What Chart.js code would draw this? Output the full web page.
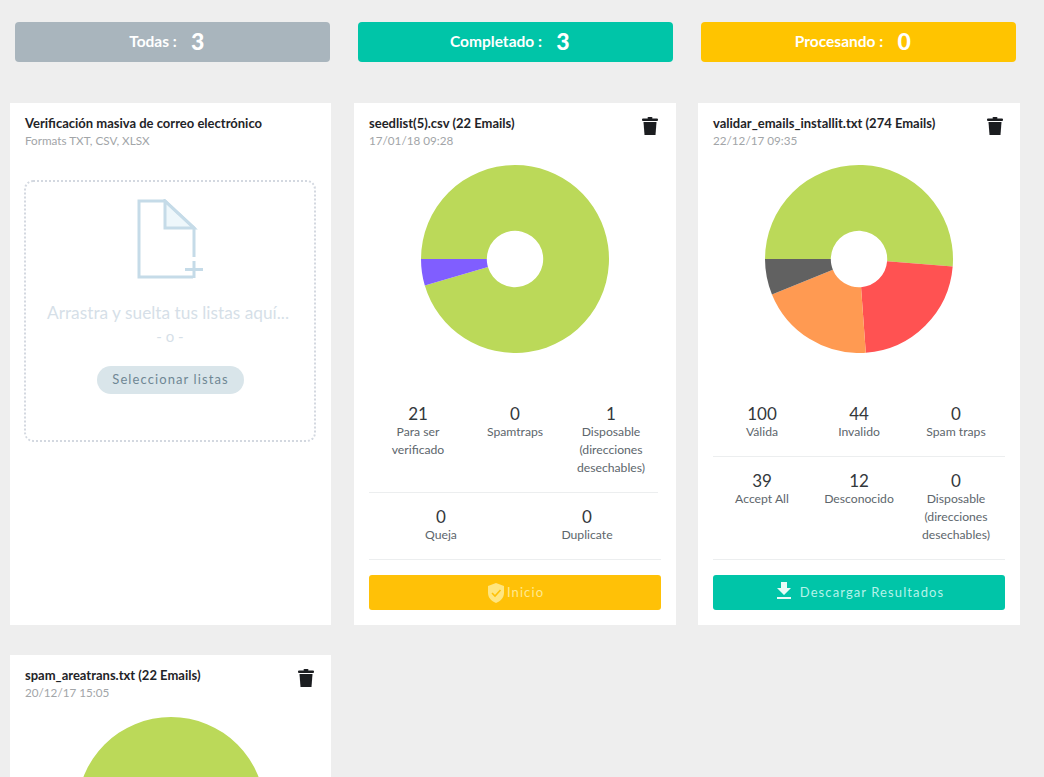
<!DOCTYPE html>
<html lang="es"><head><meta charset="utf-8">
<script src="https://cdn.jsdelivr.net/npm/chart.js@4/dist/chart.umd.min.js"></script>
<style>
html,body{margin:0;padding:0;width:1044px;height:777px;overflow:hidden;background:#eee;font-family:Lato,"Open Sans",sans-serif}
#root{position:relative;width:1044px;height:777px;overflow:hidden}
.a{position:absolute}
.pill{top:21px;width:315px;height:40px;border-radius:4px;color:#fff;display:flex;align-items:center;justify-content:center;font-size:15.5px;font-weight:700;opacity:1;padding-right:0;box-sizing:border-box}
.pill b{font-size:23px;margin-left:12px;font-weight:900;width:18px;text-align:center}
.pillBg{top:22px;width:315px;height:40px;border-radius:4px}
.card{background:#fff}
.title{font-size:13px;font-weight:700;color:#1f2428;white-space:nowrap}
.sub{font-size:11.7px;color:#a2a5a8;white-space:nowrap}
.canvasWrap{width:188px;height:188px}
.num{font-size:17px;font-weight:400;color:#33383c;text-align:center;width:110px;line-height:18px}
.lab{font-size:12.2px;color:#5d666c;text-align:center;width:100px;line-height:18px}
.hr{height:1px;background:#eceeef}
.btn{width:292px;height:35px;border-radius:3px;display:flex;align-items:center;justify-content:center;font-size:13px;letter-spacing:1.1px;line-height:33px;box-sizing:border-box}
svg{display:block}
</style></head><body><div id="root"></div>
<script>
const pillLabels=["Todas :","Completado :","Procesando :"];
const pillValues=[3,3,0];
const seedLabels=["Para ser verificado","Disposable (direcciones desechables)"];
const seedValues=[21,1];
const validarLabels=["Válida","Invalido","Accept All","Desconocido"];
const validarValues=[100,44,39,12];
const spamLabels=["Válida"];
const spamValues=[22];
const seedColors=["#bbd959","#805eff"];
const validarColors=["#bbd959","#ff5252","#ff9a52","#616161"];
const spamColors=["#bbd959"];
const seedStats1=[["21","Para ser<br>verificado"],["0","Spamtraps"],["1","Disposable<br>(direcciones<br>desechables)"]];
const seedStats2=[["0","Queja"],["0","Duplicate"]];
const validarStats1=[["100","Válida"],["44","Invalido"],["0","Spam traps"]];
const validarStats2=[["39","Accept All"],["12","Desconocido"],["0","Disposable<br>(direcciones<br>desechables)"]];

const root=document.getElementById('root');
function add(cls,css,html){const d=document.createElement('div');d.className='a '+cls;d.style.cssText=css;if(html!==undefined)d.innerHTML=html;root.appendChild(d);return d;}
[[15,"#a9b5bd"],[358,"#00c5a8"],[701,"#ffc400"]].forEach((p,i)=>{
 add('pillBg',`left:${p[0]}px;background:${p[1]}`);
 add('pill',`left:${p[0]-4.5}px`,`${pillLabels[i]}<b>${pillValues[i]}</b>`);
});
add('card','left:10px;top:103px;width:321px;height:522px');
add('card','left:354px;top:103px;width:322px;height:522px');
add('card','left:698px;top:103px;width:322px;height:522px');
add('card','left:10px;top:655px;width:321px;height:140px');
add('title','left:25px;top:115px','Verificación masiva de correo electrónico');
add('sub','left:25px;top:133px','Formats TXT, CSV, XLSX');
add('','left:24px;top:180px;width:288px;height:258px;border:2px dotted #d3d8e0;border-radius:9px');
add('','left:137px;top:199px',`<svg width="67" height="82" viewBox="0 0 67 82" fill="none" stroke="#c5dbe8" stroke-width="3"><path d="M28 2 L57 29 H28 Z" fill="#eef7fb"/><path d="M56 78 H2 V2 H28 L57 29 V58"/><path d="M57 62 V79 M48 70.5 H66"/></svg>`);
add('','left:20px;top:302px;width:300px;text-align:center;font-size:17.3px;color:#d6dfe8;white-space:nowrap;margin-left:-2px','Arrastra y suelta tus listas aquí...');
add('','left:30px;top:327px;width:280px;text-align:center;font-size:15px;color:#d6dfe8','- o -');
add('','left:97px;top:366px;width:147px;height:28px;border-radius:14px;background:#d9e5ea;color:#6f8794;font-size:13px;letter-spacing:1.1px;line-height:27px;text-align:center','Seleccionar listas');

const trash=`<svg width="16" height="18" viewBox="0 0 16 18" fill="#1b1d20"><rect x="5.5" y="0" width="5" height="2" rx="1"/><rect x="0" y="1.5" width="16" height="2.5" rx="1"/><path d="M1.5 5 H14.5 L13.5 18 H2.5 Z"/></svg>`;
add('title','left:369px;top:115px','seedlist(5).csv (22 Emails)');
add('sub','left:369px;top:133px','17/01/18 09:28');
add('','left:642px;top:117px',trash);
add('title','left:713px;top:115px','validar_emails_installit.txt (274 Emails)');
add('sub','left:713px;top:133px','22/12/17 09:35');
add('','left:987px;top:117px',trash);
add('title','left:25px;top:667px','spam_areatrans.txt (22 Emails)');
add('sub','left:25px;top:685px','20/12/17 15:05');
add('','left:298px;top:669px',trash);

function stats(items,centers,numY){items.forEach((s,i)=>{
 add('num',`left:${centers[i]-55}px;top:${numY-8}px`,s[0]);
 add('lab',`left:${centers[i]-50}px;top:${numY+10}px`,s[1]);
});}
stats(seedStats1,[418,515,611],413);
stats(seedStats2,[441,587],516);
stats(validarStats1,[762,859,956],413);
stats(validarStats2,[762,859,956],480);
add('hr','left:369px;top:492px;width:289px');
add('hr','left:369px;top:559px;width:292px');
add('hr','left:713px;top:456px;width:292px');
add('hr','left:713px;top:559px;width:292px');
add('btn','left:369px;top:575px;background:#ffc107;color:#ffe98f',`<svg width="20" height="22" viewBox="0 0 20 22" style="margin-right:1px"><path d="M10 1 L18 4 V11 C18 16 14 19.5 10 21 C6 19.5 2 16 2 11 V4 Z" fill="#ffe680"/><path d="M6 11 L9 14 L14.5 8" fill="none" stroke="#ffc107" stroke-width="1.6"/></svg>Inicio`);
add('btn','left:713px;top:575px;padding-left:2px;background:#00c5a8;color:#b5f3ea',`<svg width="16" height="18" viewBox="0 0 16 18" fill="#e8fbf7" style="margin-right:8px;margin-top:-3px"><path d="M5 0 H11 V6 H15 L8 13 L1 6 H5 Z"/><rect x="1" y="15" width="14" height="2"/></svg>Descargar Resultados`);

function doughnut(x,y,labels,values,colors){
 const w=add('canvasWrap',`left:${x}px;top:${y}px`);
 const c=document.createElement('canvas');w.appendChild(c);
 new Chart(c,{type:'doughnut',data:{labels:labels,datasets:[{data:values,backgroundColor:colors,borderWidth:0}]},
 options:{responsive:true,maintainAspectRatio:false,animation:false,cutout:'30%',rotation:-90,
  layout:{padding:0},plugins:{legend:{display:false},tooltip:{enabled:false}}}});
}
doughnut(421,165,seedLabels,seedValues,seedColors);
doughnut(765,165,validarLabels,validarValues,validarColors);
doughnut(77,717,spamLabels,spamValues,spamColors);
</script></body></html>
